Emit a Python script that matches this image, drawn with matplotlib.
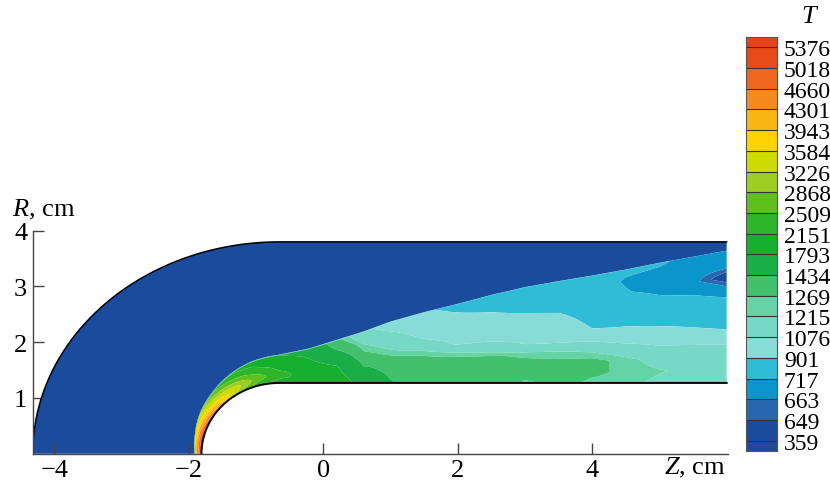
import numpy as np
import matplotlib
matplotlib.use("Agg")
import matplotlib.pyplot as plt

plt.rcParams['font.family'] = ['Liberation Serif', 'DejaVu Serif']
plt.rcParams['mathtext.fontset'] = 'custom'
plt.rcParams['mathtext.rm'] = 'Liberation Serif'
plt.rcParams['mathtext.it'] = 'Liberation Serif:italic'

# temperature levels of the colour scale
levels = [359, 649, 663, 717, 901, 1076, 1215, 1269, 1434, 1793, 2151,
          2509, 2868, 3226, 3584, 3943, 4301, 4660, 5018, 5376]
band_colors = ['#1d4a9f', '#1b4b9d', '#2767af', '#0a95cb', '#2fbcd5',
               '#88dcd8', '#76d9c5', '#66d3a7', '#42c06c', '#1aae48',
               '#14b02e', '#2eb52a', '#5ebf1e', '#9dcf22', '#ccdc00',
               '#fdd400', '#fbb514', '#f58b1f', '#ef6822', '#e84a1a',
               '#e8421a']

# body: elliptic nose joined to a cylinder, outer boundary of the domain
nose_z0 = -0.65
nose_a, body_r = 1.16, 1.27
outer_a, outer_r = 3.67, 3.8
z_end = 6.0

# stations along the body: nose by angle (deg), cylinder by Z
nose_theta = [0, 15, 30, 45, 60, 75]
cyl_z = [-0.65, -0.2, 0.2, 0.6, 1.0, 1.5, 2.0, 2.5, 3.0, 3.5, 4.0, 4.5,
         5.0, 5.5, 6.0]

# heated layer thickness, fraction of the wall-to-boundary gap
layer_frac = [0.035, 0.05, 0.075, 0.10, 0.135, 0.17,
              0.195, 0.24, 0.30, 0.36, 0.431, 0.498, 0.557, 0.621, 0.676,
              0.719, 0.759, 0.802, 0.85, 0.893, 0.937]

t_free = 500.0

# T across the heated layer at each station, wall -> layer edge (11 points)
t_layer = [
    [5300, 5250, 5150, 5000, 4850, 4700, 4550, 4400, 4300, 4200, 4100],
    [5300, 5200, 5050, 4900, 4700, 4500, 4300, 4100, 3950, 3800, 3650],
    [4900, 4700, 4500, 4300, 4100, 3950, 3800, 3650, 3500, 3300, 3100],
    [4100, 4000, 3900, 3800, 3650, 3500, 3300, 3100, 2900, 2700, 2500],
    [2800, 3100, 3300, 3350, 3200, 3000, 2800, 2600, 2400, 2250, 2150],
    [2200, 2400, 2600, 2700, 2600, 2450, 2300, 2200, 2150, 2050, 1950],
    [2000, 2100, 2200, 2250, 2200, 2100, 2050, 2000, 1950, 1850, 1800],
    [1950, 2000, 2050, 2000, 1950, 1900, 1850, 1800, 1750, 1700, 1650],
    [1950, 1950, 1900, 1850, 1800, 1700, 1600, 1500, 1420, 1350, 1300],
    [1700, 1600, 1500, 1450, 1400, 1330, 1280, 1240, 1200, 1150, 1120],
    [1450, 1420, 1400, 1380, 1300, 1240, 1190, 1150, 1100, 1050, 1000],
    [1400, 1380, 1350, 1320, 1260, 1180, 1090, 1040, 1000, 960, 930],
    [1380, 1360, 1330, 1300, 1200, 1060, 1020, 980, 940, 900, 850],
    [1380, 1350, 1320, 1280, 1150, 1050, 1000, 950, 905, 850, 800],
    [1250, 1320, 1300, 1250, 1080, 1020, 980, 920, 860, 820, 780],
    [1300, 1320, 1290, 1230, 1070, 1010, 960, 895, 840, 800, 770],
    [1250, 1290, 1300, 1200, 1060, 905, 860, 820, 780, 750, 740],
    [1230, 1250, 1240, 1150, 1000, 900, 820, 770, 722, 710, 730],
    [1200, 1220, 1180, 1090, 960, 880, 800, 730, 690, 700, 725],
    [1180, 1200, 1150, 1080, 930, 860, 780, 715, 670, 675, 700],
    [1180, 1150, 1120, 1070, 905, 828, 752, 678, 630, 680, 690],
]

nose_len = 1.9
st_u = np.r_[nose_z0 - nose_len * (90 - np.array(nose_theta)) / 90.0, cyl_z]
t_tab = np.array(t_layer, dtype=float)


def wall_and_outer(u):
    th = np.radians(90 - np.clip(nose_z0 - u, 0, None) / nose_len * 90)
    nose = u < nose_z0
    zw = np.where(nose, nose_z0 - nose_a * np.cos(th), u)
    rw = np.where(nose, body_r * np.sin(th), body_r)
    zo = np.where(nose, nose_z0 - outer_a * np.cos(th), u)
    ro = np.where(nose, outer_r * np.sin(th), outer_r)
    return zw, rw, zo, ro


u = np.linspace(st_u[0], z_end, 500)
zw, rw, zo, ro = wall_and_outer(u)
frac = np.interp(u, st_u, layer_frac)

eta = np.linspace(0, 1, t_tab.shape[1])
rows_f = [frac * e for e in eta] + [frac + 0.006, np.ones_like(u)]
rows_t = [np.interp(u, st_u, t_tab[:, j]) for j in range(len(eta))]
rows_t += [np.full_like(u, t_free), np.full_like(u, t_free)]

F = np.array(rows_f)
Zg = zw + F * (zo - zw)
Rg = rw + F * (ro - rw)
Tg = np.array(rows_t)

fig = plt.figure(figsize=(8.3, 4.89), dpi=100)
ax = fig.add_axes([0.0394, 0.0701, 0.8377, 0.456])

bounds = [0] + levels + [7000]
ax.contourf(Zg, Rg, Tg, levels=bounds, colors=band_colors, antialiased=True)

# body and domain outlines
th = np.linspace(0, np.pi / 2, 200)
ax.plot(np.r_[nose_z0 - nose_a * np.cos(th), z_end],
        np.r_[body_r * np.sin(th), body_r], color='black', lw=1.4)
ax.plot(np.r_[nose_z0 - outer_a * np.cos(th), z_end],
        np.r_[outer_r * np.sin(th), outer_r], color='black', lw=1.1)

ax.set_xlim(-4.32, 6.02)
ax.set_ylim(0, 4)
ax.set_xticks([-4, -2, 0, 2, 4])
ax.set_yticks([1, 2, 3, 4])
for side in ('top', 'right'):
    ax.spines[side].set_visible(False)
for side in ('left', 'bottom'):
    ax.spines[side].set_color('#444444')
    ax.spines[side].set_linewidth(1.0)
ax.tick_params(direction='in', length=8, width=1, color='#444444',
               labelsize=19, pad=4)

fig.text(12 / 830, 1 - 210 / 489, '$R$, cm', fontsize=19, va='center')
fig.text(726 / 830, 1 - 468 / 489, '$Z$, cm', fontsize=19, va='center',
         ha='right')

# colour scale: equal boxes, half boxes at the ends
cax = fig.add_axes([746 / 830, 37 / 489, 31 / 830, 414 / 489])
n = len(levels)
edges = np.r_[0, np.arange(n) + 0.5, n]
cax.pcolormesh([0, 1], edges, np.arange(n + 1)[:, None],
               cmap=matplotlib.colors.ListedColormap(band_colors),
               vmin=-0.5, vmax=n + 0.5)
cax.hlines(np.arange(n) + 0.5, 0, 1, color='#333333', lw=0.8)
cax.set_xlim(0, 1)
cax.set_ylim(0, n)
cax.set_xticks([])
cax.set_yticks(np.arange(n) + 0.5, labels=[str(v) for v in levels])
cax.yaxis.tick_right()
cax.tick_params(axis='y', length=0, pad=5, labelsize=17)
for sp in cax.spines.values():
    sp.set_color('#555555')
    sp.set_linewidth(0.8)
fig.text(810 / 830, 1 - 17 / 489, '$T$', fontsize=19, ha='center',
         va='center')

fig.savefig('out.png', dpi=100)
